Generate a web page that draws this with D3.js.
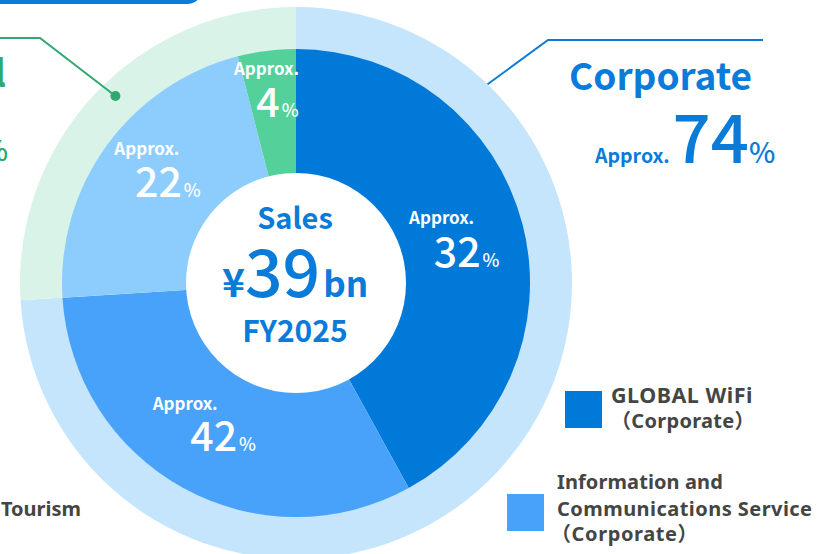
<!DOCTYPE html>
<html><head><meta charset="utf-8">
<script src="https://cdn.jsdelivr.net/npm/d3@7"></script>
<style>html,body{margin:0;padding:0;background:#fff;overflow:hidden}</style>
</head><body><svg id="c" width="817" height="554"></svg>
<script>
// ---- data ----
const innerCategories = ["GLOBAL WiFi (Corporate)", "Information and Communications Service (Corporate)", "GLOBAL WiFi (Individual)", "Glamping and Tourism"];
const innerShares = [42, 32, 22, 4];          // arc sizes as drawn
const innerLabels = ["32", "42", "22", "4"];  // printed percentages
const ringCategories = ["Corporate", "Individual"];
const ringShares = [74, 26];
const ringLabels = ["74", "26"];
const centerLines = ["Sales", "¥", "39", "bn", "FY2025"];
const legendGlobal = ["GLOBAL WiFi", "（Corporate）"];
const legendInfo = ["Information and", "Communications Service", "（Corporate）"];
const legendTourism = ["Tourism"];

// ---- style ----
const FONT = "'Noto Sans CJK JP','Noto Sans',sans-serif";
const LFONT = "'Noto Sans','Noto Sans CJK JP',sans-serif";
const innerColors = ["#0079d9", "#49a2f9", "#8dcdfe", "#54d09b"];
const ringColors = ["#c5e5fc", "#d9f3e9"];
const BLUE = "#0a7bd9", GREEN = "#30a86f", GREY = "#454545";
const cx = 296, cy = 283, r0 = 110, r1 = 234, r2 = 276;

const svg = d3.select("#c");

// top banner remnant
svg.append("rect").attr("x", -30).attr("y", -60).attr("width", 233).attr("height", 64)
  .attr("rx", 16).attr("fill", BLUE);

const g = svg.append("g").attr("transform", `translate(${cx},${cy})`);
const pie = d3.pie().sort(null).value(d => d);

// outer ring
const ringArcs = pie(ringShares);
const ringArc = d3.arc().innerRadius(r1 - 2).outerRadius(r2);
g.selectAll("path.ring").data(ringArcs).join("path").attr("class", "ring")
  .attr("d", ringArc).attr("fill", (d, i) => ringColors[i]);

// inner pie
const innerArcs = pie(innerShares);
const innerArc = d3.arc().innerRadius(0).outerRadius(r1);
g.selectAll("path.inner").data(innerArcs).join("path").attr("class", "inner")
  .attr("d", innerArc).attr("fill", (d, i) => innerColors[i]);

// center hole
g.append("circle").attr("r", r0).attr("fill", "#fff");

// slice labels
const labelArc = d3.arc().innerRadius(r0).outerRadius(r1);
const offs = [
  {ax: -21, ay: -16, nx: 4, ny: 27},
  {ax: -28, ay: -24, nx: 10, ny: 17},
  {ax: -10, ay: -27, nx: 11, ny: 15},
  {ax: -8, ay: -37, nx: 3, ny: 5}
];
innerArcs.forEach((d, i) => {
  const [x, y] = labelArc.centroid(d);
  const o = offs[i];
  g.append("text").attr("x", x + o.ax).attr("y", y + o.ay).attr("text-anchor", "middle")
    .attr("font-family", FONT).attr("font-weight", 700).attr("font-size", 17).attr("fill", "#fff")
    .text("Approx.");
  const t = g.append("text").attr("x", x + o.nx).attr("y", y + o.ny).attr("text-anchor", "middle")
    .attr("font-family", FONT).attr("fill", "#fff");
  t.append("tspan").attr("font-size", 41).attr("font-weight", 500).text(innerLabels[i]);
  t.append("tspan").attr("font-size", 18).attr("font-weight", 500).attr("dx", 2).text("%");
});

// center text
g.append("text").attr("x", -1).attr("y", 229 - cy).attr("text-anchor", "middle")
  .attr("font-family", FONT).attr("font-weight", 700).attr("font-size", 29).attr("fill", BLUE)
  .text(centerLines[0]);
const ct = g.append("text").attr("x", -1).attr("y", 297 - cy).attr("text-anchor", "middle")
  .attr("font-family", FONT).attr("fill", BLUE);
ct.append("tspan").attr("font-size", 39).attr("font-weight", 700).text(centerLines[1]);
ct.append("tspan").attr("font-size", 66).attr("font-weight", 500).text(centerLines[2]);
ct.append("tspan").attr("font-size", 35).attr("font-weight", 700).attr("dx", 3).text(centerLines[3]);
g.append("text").attr("x", -1).attr("y", 342 - cy).attr("text-anchor", "middle")
  .attr("font-family", FONT).attr("font-weight", 700).attr("font-size", 30).attr("fill", BLUE)
  .text(centerLines[4]);

// leader lines
const pt = (deg, r) => [cx + r * Math.sin(deg * Math.PI / 180), cy - r * Math.cos(deg * Math.PI / 180)];
const corpA = ringArcs[0].startAngle + (ringArcs[0].endAngle - ringArcs[0].startAngle) * 0.165;
const pC = pt(corpA * 180 / Math.PI, r2);
svg.append("path").attr("d", d3.line()([pC, [548, 40], [763, 40]]))
  .attr("fill", "none").attr("stroke", BLUE).attr("stroke-width", 2);
const indA = ringArcs[1].startAngle + (ringArcs[1].endAngle - ringArcs[1].startAngle) * 0.53;
const pI = pt(indA * 180 / Math.PI, 260);
svg.append("path").attr("d", d3.line()([pI, [40, 38], [-5, 38]]))
  .attr("fill", "none").attr("stroke", GREEN).attr("stroke-width", 2);
svg.append("circle").attr("cx", pI[0]).attr("cy", pI[1]).attr("r", 5).attr("fill", GREEN);

// ring labels
svg.append("text").attr("x", 569).attr("y", 90).attr("font-family", FONT).attr("font-weight", 700)
  .attr("font-size", 37).attr("fill", BLUE).text(ringCategories[0]);
const r1t = svg.append("text").attr("x", 595).attr("y", 163).attr("font-family", FONT).attr("fill", BLUE);
r1t.append("tspan").attr("font-size", 19.5).attr("font-weight", 700).text("Approx.");
r1t.append("tspan").attr("font-size", 67).attr("font-weight", 500).attr("dx", 3).text(ringLabels[0]);
r1t.append("tspan").attr("font-size", 28).attr("font-weight", 500).attr("dx", 0).text("%");

svg.append("text").attr("x", 6).attr("y", 87).attr("text-anchor", "end").attr("font-family", FONT)
  .attr("font-weight", 700).attr("font-size", 37).attr("fill", GREEN).text(ringCategories[1]);
const r2t = svg.append("text").attr("x", 8).attr("y", 161).attr("text-anchor", "end").attr("font-family", FONT).attr("fill", GREEN);
r2t.append("tspan").attr("font-size", 19.5).attr("font-weight", 700).text("Approx.");
r2t.append("tspan").attr("font-size", 67).attr("font-weight", 500).attr("dx", 3).text(ringLabels[1]);
r2t.append("tspan").attr("font-size", 28).attr("font-weight", 500).attr("dx", 0).text("%");

// legend
svg.append("rect").attr("x", 565).attr("y", 391).attr("width", 37).attr("height", 37).attr("fill", innerColors[0]);
legendGlobal.forEach((s, i) => svg.append("text").attr("x", i ? 611 : 611).attr("y", 403 + i * 25)
  .attr("font-family", LFONT).attr("font-weight", 700).attr("font-size", i ? 20 : 21.5)
  .attr("letter-spacing", i ? 0.3 : 0.5).attr("fill", GREY).text(s));
svg.append("rect").attr("x", 507).attr("y", 494).attr("width", 37).attr("height", 37).attr("fill", innerColors[1]);
const infoY = [489, 516, 541];
legendInfo.forEach((s, i) => svg.append("text").attr("x", i == 2 ? 551 : 557).attr("y", infoY[i])
  .attr("font-family", LFONT).attr("font-weight", 700).attr("font-size", 20)
  .attr("letter-spacing", i == 1 ? 0.45 : (i == 2 ? 0.6 : 0.1)).attr("fill", GREY).text(s));
svg.append("text").attr("x", 81).attr("y", 516).attr("text-anchor", "end")
  .attr("font-family", LFONT).attr("font-weight", 700).attr("font-size", 20).attr("fill", GREY).text(legendTourism[0]);
</script></body></html>
